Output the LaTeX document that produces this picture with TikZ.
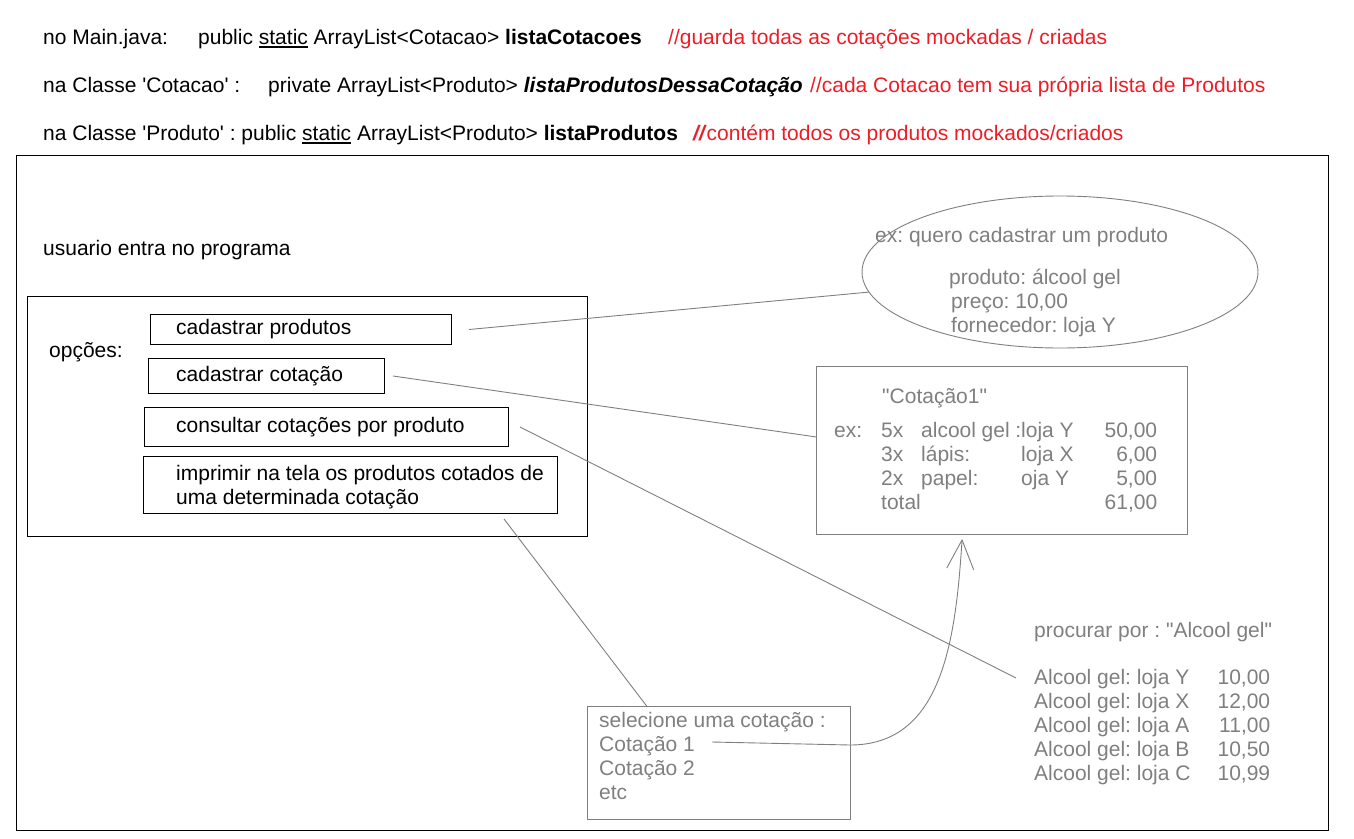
\documentclass[tikz,border=0pt]{standalone}
\usepackage{fontspec}
\setmainfont{Liberation Sans}
\usepackage{array}
\usetikzlibrary{arrows.meta,positioning,shapes.geometric,calc}
\definecolor{Grey}{HTML}{7F7F7F}
\definecolor{Note}{HTML}{EE1C24}
\frenchspacing
\newcommand\kwline[1]{\setbox0\hbox{#1}\rlap{\rule[-3.5pt]{\wd0}{1.8pt}}\box0\relax}
\tikzset{
 txt/.style={inner sep=0pt,anchor=base west,font=\fontsize{21}{24}\selectfont},
 soft/.style={txt,text=Grey},
 note/.style={txt,text=Note},
 optbox/.style={draw=black,line width=1pt,anchor=north west,inner sep=0pt},
 softbox/.style={optbox,draw=Grey},
 link/.style={draw=Grey,line width=0.9pt}
}
\begin{document}
\begin{tikzpicture}[x=1pt,y=-1pt]
\useasboundingbox (0,0) rectangle (1354,838);
% declaracoes das listas
\node[txt] (mainA) at (43,44) {no Main.java:};
\node[txt] (mainB) at (198,44) {public \kwline{static} ArrayList<Cotacao> \textbf{listaCotacoes}};
\node[note] (mainC) at (668,44) {//guarda todas as cotações mockadas / criadas};
\node[txt] (cotA) at (43,92) {na Classe \textquotesingle Cotacao\textquotesingle\ :};
\node[txt] (cotB) at (268,92) {private ArrayList<Produto> \textbf{\textit{listaProdutosDessaCotação}}};
\node[note] (cotC) at (810,92) {//cada Cotacao tem sua própria lista de Produtos};
\node[txt] (prodA) at (43,140) {na Classe \textquotesingle Produto\textquotesingle\ : public \kwline{static} ArrayList<Produto> \textbf{listaProdutos}};
\node[note] (prodC) at (693,140) {\textbf{\textit{//}}contém todos os produtos mockados/criados};
% tela do programa
\node[optbox,minimum width=1312pt,minimum height=675pt] (tela) at (16,155) {};
\node[txt] (entra) at (43,255) {usuario entra no programa};
\node[optbox,minimum width=560pt,minimum height=240pt] (opcoes) at (27,296) {};
\node[txt] (opcLbl) at (49,357) {opções:};
\node[optbox,minimum width=301pt,minimum height=30pt] (cadProd) at (150,314) {};
\node[txt,anchor=west] at ([xshift=26pt]cadProd.west) {cadastrar produtos};
\node[optbox,minimum width=236pt,minimum height=35pt] (cadCot) at (148,358) {};
\node[txt,anchor=west] at ([xshift=28pt]cadCot.west) {cadastrar cotação};
\node[optbox,minimum width=364pt,minimum height=39pt] (consCot) at (144,407) {};
\node[txt,anchor=west] at ([xshift=32pt]consCot.west) {consultar cotações por produto};
\node[optbox,minimum width=414pt,minimum height=57pt] (impr) at (143,456) {};
\node[txt] at (176,480) {\begin{tabular}[t]{@{}l@{}}imprimir na tela os produtos cotados de\\uma determinada cotação\end{tabular}};
% exemplos
\node[ellipse,draw=Grey,line width=0.9pt,minimum width=396pt,minimum height=152pt] (exProd) at (1060,272) {};
\node[soft] at (875,242) {ex: quero cadastrar um produto};
\node[soft] at (949,284) {\begin{tabular}[t]{@{}l@{}}produto: álcool gel\\\hspace*{2pt}preço: 10,00\\\hspace*{2pt}fornecedor: loja Y\end{tabular}};
\node[softbox,line width=0.9pt,minimum width=371pt,minimum height=168pt] (exCot) at (816,366) {};
\node[soft] at (882,403) {\textquotedbl Cotação1\textquotedbl};
\node[soft] at (834,437) {\begin{tabular}[t]{@{}p{47pt}@{}p{40pt}@{}p{100pt}@{}p{76pt}@{}>{\raggedleft\arraybackslash}p{60pt}@{}}
ex: & 5x & alcool gel : & loja Y & 50,00\\
 & 3x & lápis: & loja X & 6,00\\
 & 2x & papel: & oja Y & 5,00\\
 & total & & & 61,00
\end{tabular}};
\node[soft] (procura) at (1034,637) {procurar por : \textquotedbl Alcool gel\textquotedbl};
\node[soft] (busca) at (1034,684) {\begin{tabular}[t]{@{}p{170pt}@{}>{\raggedleft\arraybackslash}p{66pt}@{}}
Alcool gel: loja Y & 10,00\\
Alcool gel: loja X & 12,00\\
Alcool gel: loja A & 11,00\\
Alcool gel: loja B & 10,50\\
Alcool gel: loja C & 10,99
\end{tabular}};
\node[softbox,line width=0.9pt,minimum width=263pt,minimum height=113pt] (selCot) at (587,706) {};
\node[soft] at (599,727) {\begin{tabular}[t]{@{}l@{}}selecione uma cotação :\\Cotação 1\\Cotação 2\\etc\end{tabular}};
\coordinate (buscaIn) at (1016,678);
\coordinate (cot1End) at (712,742);
% ligacoes
\draw[link] ([xshift=17pt]cadProd.east) -- (exProd.186);
\draw[link] ([xshift=8pt]cadCot.east) -- ($(exCot.north west)!0.42!(exCot.south west)$);
\draw[link] ([xshift=11pt]consCot.east) -- (buscaIn);
\draw[link] ($(impr.south west)!0.87!(impr.south east)+(0,5)$) -- ($(selCot.north west)!0.226!(selCot.north east)$);
\draw[link,-{Straight Barb[length=29pt,width=27pt]},shorten >=4pt] (cot1End) -- ++(138,3)
  .. controls +(90,0) and +(-7,112) .. ($(exCot.south west)!0.3935!(exCot.south east)$);
\end{tikzpicture}
\end{document}
